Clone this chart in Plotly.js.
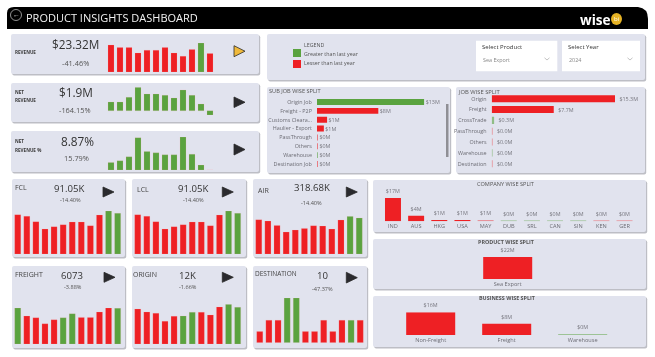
<!DOCTYPE html>
<html><head><meta charset="utf-8">
<script src="https://cdn.plot.ly/plotly-3.0.1.min.js"></script>
<style>html,body{margin:0;padding:0;background:#fff;overflow:hidden}#g{width:655px;height:357px;filter:blur(0.35px)}</style>
</head><body><div id="g"></div>
<script>
// ---- data ----
const months = ['1','2','3','4','5','6','7','8','9','10','11','12'];
const revenue = [82,74,74,58,66,66,74,58,48,68,88,56];
const revenueUp = [0,0,0,0,0,0,0,0,0,0,1,0];
const netRevenue = [26,26,40,70,50,50,46,38,62,46,20,-13];
const netRevenuePct = [23,28,40,98,56,52,46,46,100,48,15,0];
const fcl = [118,113,97,75,82,88,96,96,85,117,129,122];
const fclUp = [0,0,0,0,0,0,0,0,0,0,1,1];
const lcl = [118,113,97,75,82,88,96,96,85,117,129,122];
const air = [102,98,85,65,71,76,84,83,74,101,112,107];
const freight = [107,83,78,60,72,78,90,79,79,95,107,106];
const freightUp = [1,0,0,0,0,1,1,0,0,0,0,1];
const origin = [105,96,92,68,83,84,95,95,87,111,119,110];
const originUp = [0,0,0,0,0,1,1,0,0,0,1,1];
const destination = [33,67,67,133,133,33,33,67,33,67,67,67];
const destinationUp = [0,0,0,1,1,0,0,0,0,0,1,0];

const subJobNames = ['Origin Job','Freight - P2P','Customs Cleara...','Haulier - Export','PassThrough','Others','Warehouse','Destination Job'];
const subJobValues = [13.3,7.6,1.25,0.85,0.12,0.12,0.12,0.12];
const subJobLabels = ['$13M','$8M','$1M','$1M','$0M','$0M','$0M','$0M'];
const subJobUp = [1,0,0,0,0,0,1,0];

const jobNames = ['Origin','Freight','CrossTrade','PassThrough','Others','Warehouse','Destination'];
const jobValues = [15.3,7.7,0.3,0.1,0.1,0.1,0.1];
const jobLabels = ['$15.3M','$7.7M','$0.3M','$0.0M','$0.0M','$0.0M','$0.0M'];
const jobUp = [0,0,1,0,0,1,0];

const companyNames = ['IND','AUS','HKG','USA','MAY','DUB','SRL','CAN','SIN','KEN','GER'];
const companyValues = [17,4,1,1,0.8,0.5,0.5,0.5,0.5,0.5,0.5];
const companyLabels = ['$17M','$4M','$1M','$1M','$1M','$0M','$0M','$0M','$0M','$0M','$0M'];
const companyUp = [0,0,0,0,0,1,1,1,1,0,0];

const productNames = ['Sea Export'];
const productValues = [22];
const productLabels = ['$22M'];
const productUp = [0];

const businessNames = ['Non-Freight','Freight','Warehouse'];
const businessValues = [16,8,0.4];
const businessLabels = ['$16M','$8M','$0M'];
const businessUp = [0,0,1];

// ---- page helpers ----
const W=655,H=357,RED='#ee2024',GREEN='#5aa33f',FONT='"Open Sans", sans-serif';
const px=x=>x/W, py=y=>1-y/H;
const colorsOf=u=>u.map(v=>v?GREEN:RED);
const fade=(vals,u)=>vals.map((v,i)=>(v<=0.8&&vals[0]>5&&i!==2&&i!==3)||(v<0.4&&i>=0)?(u[i]?'rgba(90,163,63,.6)':'rgba(238,32,36,.55)'):(u[i]?GREEN:RED));
const shapes=[],annotations=[],traces=[],axes={};
let n=0;
function rr(x0,y0,x1,y1,r){return `M${px(x0+r)} ${py(y0)}L${px(x1-r)} ${py(y0)}Q${px(x1)} ${py(y0)} ${px(x1)} ${py(y0+r)}L${px(x1)} ${py(y1-r)}Q${px(x1)} ${py(y1)} ${px(x1-r)} ${py(y1)}L${px(x0+r)} ${py(y1)}Q${px(x0)} ${py(y1)} ${px(x0)} ${py(y1-r)}L${px(x0)} ${py(y0+r)}Q${px(x0)} ${py(y0)} ${px(x0+r)} ${py(y0)}Z`;}
function pathShape(path,fill,line,lw){shapes.push({type:'path',xref:'paper',yref:'paper',layer:'below',path,fillcolor:fill,line:{color:line||'rgba(0,0,0,0)',width:lw||0}});}
function panel(x0,y0,x1,y1){
  pathShape(rr(x0+1.2,y0+1.2,x1+1.2,y1+1.4,2),'#bdbec5');
  pathShape(rr(x0,y0,x1,y1,2),'#e1e3ee');
}
function rect(x0,y0,x1,y1,fill,line){shapes.push({type:'rect',xref:'paper',yref:'paper',layer:'below',x0:px(x0),x1:px(x1),y0:py(y0),y1:py(y1),fillcolor:fill,line:{color:line||'rgba(0,0,0,0)',width:line?0.7:0}});}
function txt(s,x,y,size,color,anchor,fam,extra){annotations.push(Object.assign({xref:'paper',yref:'paper',x:px(x),y:py(y),text:s,showarrow:false,xanchor:anchor||'center',yanchor:'middle',font:{size,color:color||'#444',family:fam||FONT},borderpad:0,borderwidth:0},extra||{}));}
function tri(x0,x1,y0,y1,fill){pathShape(`M${px(x0)} ${py(y0)}L${px(x1)} ${py((y0+y1)/2)}L${px(x0)} ${py(y1)}Z`,fill,'#2a2a2a',0.8);}
function axisPair(l,r,t,b){
  n++;const s=n===1?'':n;
  axes['xaxis'+s]={domain:[px(l),px(r)],anchor:'y'+s,fixedrange:true,showgrid:false,zeroline:false,showline:false};
  axes['yaxis'+s]={domain:[py(b),py(t)],anchor:'x'+s,fixedrange:true,showgrid:false,zeroline:false,showline:false};
  return {xa:axes['xaxis'+s],ya:axes['yaxis'+s],x:'x'+s,y:'y'+s};
}
function spark(vals,up,l,r,t,b,lo,hi){
  const a=axisPair(l,r,t,b);
  a.xa.visible=false;a.ya.visible=false;a.xa.type='category';a.xa.range=[-0.5,11.5];a.ya.range=[lo,hi];
  traces.push({type:'bar',x:months,y:vals,xaxis:a.x,yaxis:a.y,width:2/3,marker:{color:colorsOf(up),line:{color:'rgba(255,180,180,0.35)',width:0.5}},hoverinfo:'skip'});
}
function hbars(names,vals,labels,up,l,r,t,b,hi,gap){
  const a=axisPair(l,r,t,b);
  a.xa.visible=false;a.xa.range=[0,hi];
  Object.assign(a.ya,{type:'category',categoryorder:'array',categoryarray:names,autorange:'reversed',ticklen:3,tickcolor:'rgba(0,0,0,0)',ticks:'outside',tickfont:{size:5.4,color:'#6c6c74',family:FONT}});
  traces.push({type:'bar',orientation:'h',y:names,x:vals,xaxis:a.x,yaxis:a.y,width:1-gap,text:labels.map(s=>'\u00a0'+s),textposition:'outside',constraintext:'none',cliponaxis:false,textfont:{size:5.4,color:'#77777f',family:FONT},marker:{color:fade(vals,up)},hoverinfo:'skip'});
}
function vbars(names,vals,labels,up,l,r,t,b,hi,gap){
  const a=axisPair(l,r,t,b);
  a.ya.visible=false;a.ya.range=[0,hi];
  Object.assign(a.xa,{type:'category',categoryorder:'array',categoryarray:names,ticks:'',tickfont:{size:5.6,color:'#6c6c74',family:FONT}});
  traces.push({type:'bar',x:names,y:vals,xaxis:a.x,yaxis:a.y,width:1-gap,text:labels,textposition:'outside',constraintext:'none',cliponaxis:false,textfont:{size:5.4,color:'#77777f',family:FONT},marker:{color:fade(vals,up)},hoverinfo:'skip'});
}

// ---- header ----
pathShape(`M${px(7)} ${py(29)}L${px(7)} ${py(13)}Q${px(7)} ${py(7)} ${px(14)} ${py(7)}L${px(638)} ${py(7)}Q${px(648)} ${py(8)} ${px(648)} ${py(19)}L${px(648)} ${py(29)}Z`,'#000000');
shapes.push({type:'circle',xref:'paper',yref:'paper',x0:px(10.5),x1:px(21.5),y0:py(9.5),y1:py(20.5),line:{color:'#cfcfcf',width:0.7},fillcolor:'rgba(0,0,0,0)'});
txt('←',16,14.6,7,'#d8d8d8');
txt('PRODUCT INSIGHTS DASHBOARD',26,17.5,11,'#f2f2f2','left');
txt('wise',580,19.6,13.6,'#ffffff','left','"Open Sans", sans-serif',{font:{size:13.6,color:'#fff',family:FONT,weight:700}});
shapes.push({type:'circle',xref:'paper',yref:'paper',x0:px(611),x1:px(622),y0:py(13),y1:py(25),fillcolor:'#e6b325',line:{width:0,color:'rgba(0,0,0,0)'}});
txt('bi',616.5,19.2,6,'#ffffff');

// ---- KPI cards ----
panel(11,34,259,74);panel(11,83,259,122);panel(11,131,259,172);
txt('<b>REVENUE</b>',15,52,4.6,'#3a3a3a','left');
txt('<b>NET</b>',15,92,4.6,'#3a3a3a','left');txt('<b>REVENUE</b>',15,100,4.6,'#3a3a3a','left');
txt('<b>NET</b>',15,141.5,4.6,'#3a3a3a','left');txt('<b>REVENUE %</b>',15,150,4.6,'#3a3a3a','left');
txt('$23.32M',75.3,44,11.8,'#333');txt('-41.46%',75,63,7.4,'#555');
txt('$1.9M',76,92.5,11.8,'#333');txt('-164.15%',75,110,7.4,'#555');
txt('8.87%',77,141.5,11.8,'#333');txt('15.79%',76,158,7.4,'#555');
spark(revenue,revenueUp,106.5,214.5,43,72,0,88);
spark(netRevenue,netRevenue.map(()=>1),106.5,214.5,87.3,115,-13,70);
spark(netRevenuePct,netRevenuePct.map(()=>1),106.5,214.5,137,170,0,100);
tri(234,245,45.7,56.7,'#f0b93a');tri(234,245,97,107.5,'#2a2a2e');tri(234,245,144,155,'#2a2a2e');

// ---- legend / slicers ----
panel(267,34,645,80);
txt('LEGEND',303.7,44.7,5.3,'#555','left');
rect(293,49,301,57,GREEN);rect(293,60,301,68,RED);
txt('Greater than last year',303.7,54,5.3,'#555','left');
txt('Lesser than last year',303.7,63,5.3,'#555','left');
rect(476,40.7,557.3,71.3,'#ffffff');rect(562,40.7,640,71.3,'#ffffff');
txt('Select Product',482,47,6,'#333','left');txt('Select Year',568,47,6,'#333','left');
txt('Sea Export',483,60,5.4,'#888','left');txt('2024',569,60,5.4,'#888','left');
for(const cx of [547,630]){shapes.push({type:'path',xref:'paper',yref:'paper',layer:'below',path:`M${px(cx-2.5)} ${py(57.8)}L${px(cx)} ${py(60)}L${px(cx+2.5)} ${py(57.8)}`,line:{color:'#999',width:0.6},fillcolor:'rgba(0,0,0,0)'});}

// ---- sub job / job ----
panel(267,87,450,173);
txt('SUB JOB WISE SPLIT',269,91.5,5.6,'#555','left');
hbars(subJobNames,subJobValues,subJobLabels,subJobUp,317,424.3,97.6,168.4,13.3,0.33);
rect(446,104,448.5,157,'#8f8f95');
panel(456,87,645,173);
txt('JOB WISE SPLIT',458,92,5.8,'#555','left');
hbars(jobNames,jobValues,jobLabels,jobUp,491.7,615,93.3,169.1,15.3,0.35);

// ---- lower cards ----
panel(12,179,125,257);panel(132,179,246,257);panel(253,179,367,257);
panel(12,266,125,348);panel(132,266,246,348);panel(253,266,367,348);
const lab=(s,x,y,z)=>txt(s,x,y,z,'#444','left');
lab('FCL',15,187,7);lab('LCL',137,189,7);lab('AIR',258.3,190.7,7);
lab('FREIGHT',15,274.3,7);lab('ORIGIN',132.7,274.3,7);lab('DESTINATION',255,273.3,6.5);
txt('91.05K',69.3,188,9.6,'#333');txt('-14.40%',70,200,5.6,'#555');
txt('91.05K',193,188,9.6,'#333');txt('-14.40%',193,200,5.6,'#555');
txt('318.68K',312.3,187.7,9.6,'#333');txt('-14.40%',311.7,203,5.6,'#555');
txt('6073',72.3,275.7,9.6,'#333');txt('-3.88%',72.7,287.3,5.6,'#555');
txt('12K',187,275.7,9.6,'#333');txt('-1.66%',188,287.3,5.6,'#555');
txt('10',322,275.7,9.6,'#333');txt('-47.37%',322,288.7,5.6,'#555');
tri(103,114,187,197,'#2a2a2e');tri(222.3,233.3,187,197,'#2a2a2e');tri(346.3,357.3,187,197,'#2a2a2e');
tri(104,115,272.3,282.3,'#2a2a2e');tri(222.3,233.3,272.3,282.3,'#2a2a2e');tri(346.3,357.3,272.3,283,'#2a2a2e');
spark(fcl,fclUp,13.2,122.2,211,254,0,129);
spark(lcl,fclUp,133.2,242.2,211,254,0,129);
spark(air,fclUp,254.2,363.8,216.3,254,0,112);
spark(freight,freightUp,13.2,122.2,308,344,0,107);
spark(origin,originUp,133.2,242.2,304.3,344,0,119);
spark(destination,destinationUp,255.2,364.8,298,342.7,0,133);

// ---- right splits ----
panel(373,180,646,232);
txt('COMPANY WISE SPLIT',506,183.7,5.6,'#555');
vbars(companyNames,companyValues,companyLabels,companyUp,381.4,636.1,198,221.3,17,0.31);
panel(373,239,646,289);
txt('<b>PRODUCT WISE SPLIT</b>',506.7,242,5.4,'#555');
vbars(productNames,productValues,productLabels,productUp,469.7,545.7,257,279,22,0.355);
panel(373,296,646,347);
txt('<b>BUSINESS WISE SPLIT</b>',507,298,5.4,'#555');
vbars(businessNames,businessValues,businessLabels,businessUp,392.7,620.7,312.3,335,16,0.355);

const layout=Object.assign({width:W,height:H,margin:{l:0,r:0,t:0,b:0},paper_bgcolor:'#fff',plot_bgcolor:'rgba(0,0,0,0)',showlegend:false,shapes,annotations,barmode:'overlay',font:{family:FONT}},axes);
Plotly.newPlot('g',traces,layout,{displayModeBar:false,staticPlot:true});
</script></body></html>
